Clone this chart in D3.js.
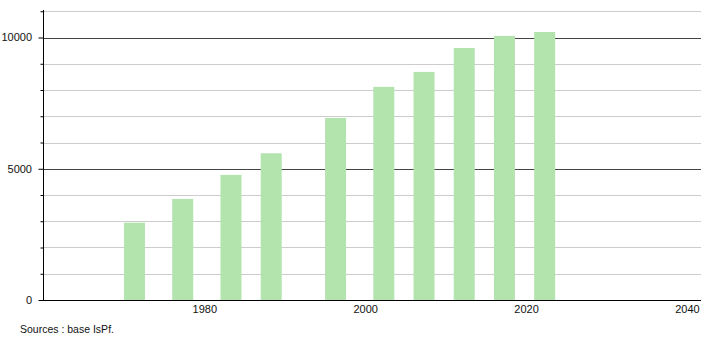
<!DOCTYPE html>
<html>
<head>
<meta charset="utf-8">
<script src="https://cdn.jsdelivr.net/npm/d3@7"></script>
<style>
  html, body { margin: 0; padding: 0; background: #ffffff; }
  svg { display: block; font-family: "Liberation Sans", Arial, Helvetica, sans-serif; }
</style>
</head>
<body>
<svg id="chart" width="710" height="340"></svg>
<script>
// ---- data ----
const years = [1971, 1977, 1983, 1988, 1996, 2002, 2007, 2012, 2017, 2022];
const population = [2945, 3850, 4765, 5590, 6935, 8120, 8690, 9600, 10060, 10210];
const xTickYears = [1980, 2000, 2020, 2040];
const yLabelTicks = [0, 5000, 10000];
const yGridTicks = [1000, 2000, 3000, 4000, 5000, 6000, 7000, 8000, 9000, 10000, 11000];
const sourceText = "Sources : base IsPf.";

// ---- layout ----
(function () {
const svg = d3.select("#chart");
const mLeft = 43.5, mRight = 701, mTop = 11.25, mBottom = 300;

const x = d3.scaleLinear().domain([1960, 2041.75]).range([mLeft, mRight]);
const y = d3.scaleLinear().domain([0, 11000]).range([mBottom, mTop]);
const barWidth = 21;
const barOffset = 2.5;

// gridlines
svg.append("g").selectAll("line")
  .data(yGridTicks)
  .join("line")
  .attr("x1", mLeft).attr("x2", mRight)
  .attr("y1", d => Math.round(y(d)) + 0.5).attr("y2", d => Math.round(y(d)) + 0.5)
  .attr("stroke", d => d % 5000 === 0 ? "#444444" : "#cccccc")
  .attr("stroke-width", 1);

// bars
svg.append("g").selectAll("rect")
  .data(years.map((yr, i) => ({ yr, v: population[i] })))
  .join("rect")
  .attr("x", d => x(d.yr) + barOffset - barWidth / 2)
  .attr("width", barWidth)
  .attr("y", d => y(d.v))
  .attr("height", d => y(0) - y(d.v))
  .attr("fill", "#b3e4ae");

// y axis
const yAxis = d3.axisLeft(y).tickValues(yGridTicks.concat([0])).tickSize(3).tickFormat("");
const yg = svg.append("g").attr("transform", `translate(${mLeft},0)`).call(yAxis);
yg.select(".domain").remove();
yg.selectAll(".tick line").attr("stroke", "#000").attr("x2", d => d % 5000 === 0 ? -5 : -3);
svg.append("line")
  .attr("x1", mLeft).attr("x2", mLeft)
  .attr("y1", 10).attr("y2", mBottom + 0.5)
  .attr("stroke", "#000").attr("stroke-width", 1);

svg.append("g").selectAll("text")
  .data(yLabelTicks)
  .join("text")
  .attr("x", 32)
  .attr("y", d => y(d))
  .attr("dy", "0.35em")
  .attr("text-anchor", "end")
  .attr("font-size", 11)
  .attr("fill", "#111")
  .text(d => d);

// x axis
svg.append("line")
  .attr("x1", mLeft - 3).attr("x2", mRight)
  .attr("y1", mBottom + 0.5).attr("y2", mBottom + 0.5)
  .attr("stroke", "#000").attr("stroke-width", 1);

const xAxis = d3.axisBottom(x).tickValues(xTickYears).tickSize(0).tickPadding(0).tickFormat(d3.format("d"));
const xg = svg.append("g").attr("transform", `translate(0,${mBottom})`).call(xAxis);
xg.select(".domain").remove();
xg.selectAll(".tick text")
  .attr("y", 13)
  .attr("dy", 0)
  .attr("font-size", 11)
  .attr("font-family", "Liberation Sans, Arial, sans-serif")
  .attr("fill", "#111");

// source
svg.append("text")
  .attr("x", 20)
  .attr("y", 333)
  .attr("font-size", 10.5)
  .attr("fill", "#111")
  .text(sourceText);
})();
</script>
</body>
</html>
